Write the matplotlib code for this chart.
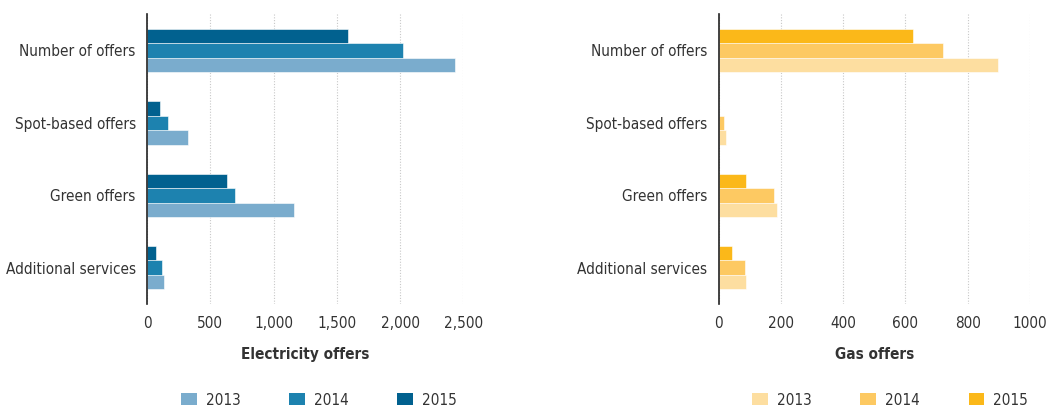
import numpy as np
import matplotlib
matplotlib.use("Agg")
import matplotlib.pyplot as plt
from matplotlib import font_manager as fm
from matplotlib.patches import Patch

# pick a narrow font if one is there
fonts = fm.fontManager.ttflist
names = {f.name for f in fonts}
fsize = 12
if "Liberation Sans Narrow" in names:
    plt.rcParams['font.family'] = ['Liberation Sans Narrow', 'DejaVu Sans']
elif any(f.name == "DejaVu Sans" and f.stretch == "condensed" for f in fonts):
    plt.rcParams['font.family'] = ['DejaVu Sans']
    plt.rcParams['font.stretch'] = 'condensed'
    fsize = 11
else:
    plt.rcParams['font.family'] = ['Liberation Sans', 'DejaVu Sans']
    fsize = 10.5

categories = ["Number of offers", "Spot-based offers", "Green offers", "Additional services"]
years = ["2013", "2014", "2015"]

# electricity offers by year
elec_2013 = [2430, 325, 1165, 132]
elec_2014 = [2025, 163, 696, 121]
elec_2015 = [1590, 105, 633, 69]

# gas offers by year
gas_2013 = [896, 23, 186, 88]
gas_2014 = [722, 16, 177, 83]
gas_2015 = [624, 0, 87, 43]

elec_colors = ["#7aaccd", "#1d82af", "#01618f"]
gas_colors = ["#fddea0", "#fdc962", "#fbb819"]
text_col = "#333333"

fig = plt.figure(figsize=(10.46, 4.05), dpi=100)
ax1 = fig.add_axes([0.1405, 0.2494, 0.3025, 0.716])
ax2 = fig.add_axes([0.6871, 0.2494, 0.2976, 0.716])


def draw(ax, series, colors, xmax, step, fmt, xlabel):
    y = np.arange(len(categories))
    h = 0.2
    # 2013 bottom, 2015 top within each group
    offsets = [h, 0, -h]
    for vals, c, off in zip(series, colors, offsets):
        ax.barh(y + off, vals, height=h, color=c, edgecolor="white", linewidth=0.4, zorder=3)
    ax.set_ylim(3.5, -0.5)
    ax.set_xlim(0, xmax)
    ticks = np.arange(0, xmax + 1, step)
    ax.set_xticks(ticks)
    ax.set_xticklabels([fmt(t) for t in ticks], fontsize=fsize, color=text_col)
    ax.set_yticks(y)
    ax.set_yticklabels(categories, fontsize=fsize, color=text_col)
    ax.tick_params(axis="both", length=0, pad=8)
    ax.tick_params(axis="x", pad=9)
    for s in ["top", "right", "bottom"]:
        ax.spines[s].set_visible(False)
    ax.spines["left"].set_color("#222222")
    ax.spines["left"].set_linewidth(1.2)
    ax.spines["left"].set_zorder(4)
    ax.grid(axis="x", linestyle=(0, (1, 1.5)), color="#c8c8c8", linewidth=0.8, zorder=0)
    ax.set_xlabel(xlabel, fontsize=fsize, fontweight="bold", color=text_col, labelpad=11)


draw(ax1, [elec_2013, elec_2014, elec_2015], elec_colors, 2500, 500,
     lambda t: f"{int(t):,}", "Electricity offers")
draw(ax2, [gas_2013, gas_2014, gas_2015], gas_colors, 1000, 200,
     lambda t: f"{int(t)}", "Gas offers")

for colors, cx in [(elec_colors, 0.305), (gas_colors, 0.851)]:
    handles = [Patch(facecolor=c, edgecolor="none") for c in colors]
    fig.legend(handles, years, loc="center", bbox_to_anchor=(cx, 0.012), ncol=3,
               frameon=False, fontsize=fsize, handlelength=1.0, handleheight=1.0,
               handletextpad=0.6, columnspacing=3.2, labelcolor=text_col)

fig.savefig("out.png", dpi=100)
